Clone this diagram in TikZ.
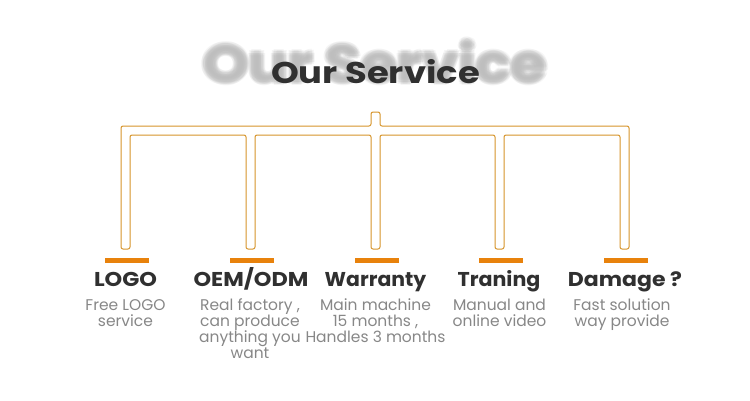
\documentclass[tikz,border=0pt]{standalone}
\usepackage{fontspec}
\setmainfont{Poppins}
\definecolor{tube}{RGB}{214,148,42}
\definecolor{bar}{RGB}{232,130,12}
\definecolor{head}{RGB}{48,48,48}
\definecolor{desc}{RGB}{135,135,135}
\definecolor{ghost}{RGB}{185,185,185}
\begin{document}
\begin{tikzpicture}[x=1pt,y=-1pt,
  headtext/.style={anchor=base,inner sep=0pt,text=head,font=\fontsize{20}{24}\selectfont\bfseries},
  desctext/.style={anchor=base,inner sep=0pt,text=desc,align=center,font=\fontsize{15.5}{16}\selectfont},
  barline/.style={fill=bar,draw=none},
  tubeline/.style={draw=tube,line width=1pt,fill=white,rounded corners=2pt,line join=round}]
\useasboundingbox (0,0) rectangle (750,400);
% blurred background title
\foreach \dx/\dy [count=\i] in {0/0,2/0,-2/0,0/2,0/-2,1.5/1.5,-1.5/1.5,1.5/-1.5,-1.5/-1.5,3.5/0,-3.5/0,0/3.5,0/-3.5,2.5/2.5,-2.5/2.5,2.5/-2.5,-2.5/-2.5}
  \node[anchor=base,inner sep=0pt,text=ghost,opacity=0.14,font=\fontsize{52}{52}\selectfont\bfseries] (ghost\i) at (375+\dx,82+\dy) {\scalebox{1.12}[1]{Our Service}};
\node[anchor=base,inner sep=0pt,text=head,font=\fontsize{30}{30}\selectfont\bfseries] (title) at (375.5,83) {\scalebox{1.18}[1]{Our Service}};
% tube outline
\draw[tubeline] (121,249) -- (121,126) -- (371,126) -- (371,112) -- (380,112) -- (380,126) -- (629,126) -- (629,249) -- (620,249) -- (620,135) -- (504,135) -- (504,249) -- (495,249) -- (495,135) -- (380,135) -- (380,249) -- (371,249) -- (371,135) -- (255,135) -- (255,249) -- (246,249) -- (246,135) -- (130,135) -- (130,249) -- cycle;
% bars
\foreach \cx [count=\i] in {127,252,377,501,626}
  \path[barline] (\cx-22,258) rectangle (\cx+22,263);
% headings
\node[headtext] (h1) at (125.5,286) {\scalebox{1.12}[1]{LOGO}};
\node[headtext] (h2) at (251,286) {\scalebox{1.12}[1]{OEM/ODM}};
\node[headtext] (h3) at (375.5,286) {\scalebox{1.02}[1]{Warranty}};
\node[headtext] (h4) at (499,286) {\scalebox{1.03}[1]{Traning}};
\node[headtext] (h5) at (625,286) {\scalebox{1.1}[1]{Damage ?}};
% descriptions (base anchor = baseline of last line)
\node[desctext] (d1) at (125.5,326.5) {Free LOGO\\service};
\node[desctext] (d2) at (250,358.5) {Real factory ,\\can produce\\anything you\\want};
\node[desctext] (d3) at (375.5,342.5) {Main machine\\15 months ,\\Handles 3 months};
\node[desctext] (d4) at (499.5,326.5) {Manual and\\online video};
\node[desctext] (d5) at (622,326.5) {Fast solution\\way provide};
\end{tikzpicture}
\end{document}
